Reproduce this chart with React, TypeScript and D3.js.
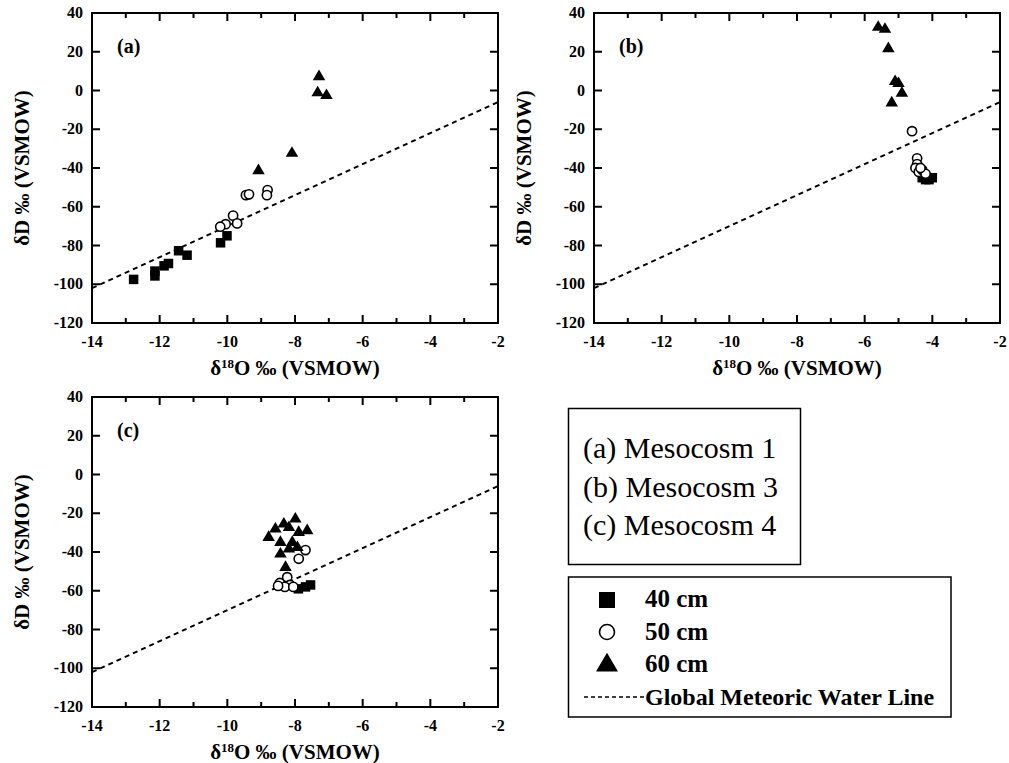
import React from "react";
import * as d3 from "d3";

type Pt = [number, number];

// Panel (a) Mesocosm 1
const a40: Pt[] = [[-10.01,-75],[-10.2,-78.6],[-11.44,-82.7],[-11.19,-85],[-11.74,-89.3],[-11.87,-90.5],[-12.14,-93.2],[-12.14,-95.7],[-12.77,-97.5]];
const a50: Pt[] = [[-9.45,-54],[-9.36,-53.6],[-8.81,-51.4],[-8.83,-54],[-9.83,-64.6],[-9.71,-68.6],[-10.05,-69],[-10.21,-70.3]];
const a60: Pt[] = [[-7.29,7.5],[-7.33,-0.8],[-7.07,-2.2],[-8.09,-32],[-9.08,-41]];
// Panel (b) Mesocosm 3
const b40: Pt[] = [[-4.3,-45],[-4.1,-46],[-4.0,-45],[-4.2,-46]];
const b50: Pt[] = [[-4.6,-21],[-4.45,-35],[-4.45,-38],[-4.5,-40],[-4.4,-42],[-4.3,-41],[-4.2,-43],[-4.35,-40]];
const b60: Pt[] = [[-5.6,33],[-5.4,32],[-5.3,22],[-5.1,5],[-5.0,4],[-4.9,-1],[-5.2,-6]];
// Panel (c) Mesocosm 4
const c40: Pt[] = [[-7.54,-57],[-7.69,-58],[-7.9,-59]];
const c50: Pt[] = [[-7.69,-39],[-7.89,-43.5],[-8.23,-53],[-8.45,-56],[-8.15,-57],[-8.3,-58],[-8.05,-58],[-8.5,-57.5]];
const c60: Pt[] = [[-7.99,-22.6],[-8.33,-25.2],[-8.58,-27.8],[-7.64,-28.6],[-8.18,-27],[-7.89,-29.5],[-8.78,-32.1],[-8.43,-34.7],[-8.08,-34.7],[-7.93,-37.3],[-8.18,-38.1],[-8.43,-40.7],[-8.28,-47.6]];

const xTicks = [-14, -12, -10, -8, -6, -4, -2];
const xMinor = d3.range(-14, -1, 1);
const yTicks = [40, 20, 0, -20, -40, -60, -80, -100, -120];
const gmwlX = [-14, -2];
const gmwl = (x: number) => 8 * x + 10;

const legendPanels = ["(a) Mesocosm 1", "(b) Mesocosm 3", "(c) Mesocosm 4"];
const legendSeries = ["40 cm", "50 cm", "60 cm"];

const panels = [
  { label: "(a)", left: 92, top: 13, s40: a40, s50: a50, s60: a60 },
  { label: "(b)", left: 594, top: 13, s40: b40, s50: b50, s60: b60 },
  { label: "(c)", left: 92, top: 397, s40: c40, s50: c50, s60: c60 },
];

const W = 406;
const H = 310;
const FONT = "Liberation Serif, Tinos, Times New Roman, DejaVu Serif, serif";
const fs = (size: number, bold = true): React.CSSProperties => ({
  fontFamily: FONT,
  fontSize: size,
  fontWeight: bold ? 700 : 400,
});

function Square({ x, y, s }: { x: number; y: number; s: number }) {
  return <rect x={x - s / 2} y={y - s / 2} width={s} height={s} fill="#000" />;
}
function Circle({ x, y, r }: { x: number; y: number; r: number }) {
  return <circle cx={x} cy={y} r={r} fill="#fff" stroke="#000" strokeWidth={1.6} />;
}
function Tri({ x, y, w }: { x: number; y: number; w: number }) {
  const h = w * 0.85;
  return <path d={`M${x},${y - h * 0.6}L${x + w / 2},${y + h * 0.4}L${x - w / 2},${y + h * 0.4}Z`} fill="#000" />;
}

function Panel({ p }: { p: (typeof panels)[number] }) {
  const x = d3.scaleLinear().domain([-14, -2]).range([p.left, p.left + W]);
  const y = d3.scaleLinear().domain([-120, 40]).range([p.top + H, p.top]);
  const line = d3.line<number>().x((v) => x(v)).y((v) => y(gmwl(v)));
  const bottom = p.top + H;
  const right = p.left + W;
  return (
    <g>
      <path d={line(gmwlX) || ""} fill="none" stroke="#000" strokeWidth={2} strokeDasharray="5,4" />
      {p.s40.map((d, i) => <Square key={"s" + i} x={x(d[0])} y={y(d[1])} s={9.5} />)}
      {p.s50.map((d, i) => <Circle key={"c" + i} x={x(d[0])} y={y(d[1])} r={4.6} />)}
      {p.s60.map((d, i) => <Tri key={"t" + i} x={x(d[0])} y={y(d[1])} w={12.5} />)}
      <rect x={p.left} y={p.top} width={W} height={H} fill="none" stroke="#000" strokeWidth={2} />
      {xMinor.map((v) => {
        const major = v % 2 === 0;
        const len = major ? 8 : 5;
        return (
          <g key={"xt" + v}>
            <line x1={x(v)} x2={x(v)} y1={bottom} y2={bottom - len} stroke="#000" strokeWidth={2} />
            <line x1={x(v)} x2={x(v)} y1={p.top} y2={p.top + len} stroke="#000" strokeWidth={2} />
          </g>
        );
      })}
      {yTicks.map((v) => (
        <g key={"yt" + v}>
          <line x1={p.left} x2={p.left + 8} y1={y(v)} y2={y(v)} stroke="#000" strokeWidth={2} />
          <line x1={right} x2={right - 8} y1={y(v)} y2={y(v)} stroke="#000" strokeWidth={2} />
          <text x={p.left - 9} y={y(v) + 5} textAnchor="end" style={fs(16)}>
            {v}
          </text>
        </g>
      ))}
      {xTicks.map((v) => (
        <text key={"xl" + v} x={x(v)} y={bottom + 24} textAnchor="middle" style={fs(16)}>
          {v}
        </text>
      ))}
      <text x={p.left + 25} y={p.top + 40} style={fs(20)}>
        {p.label}
      </text>
      <text x={(p.left + right) / 2} y={bottom + 52} textAnchor="middle" style={fs(21)}>
        δ<tspan dy={-7} style={fs(13)}>18</tspan>
        <tspan dy={7}>O ‰ (VSMOW)</tspan>
      </text>
      <text
        transform={`translate(${p.left - 63},${(p.top + bottom) / 2}) rotate(-90)`}
        textAnchor="middle"
        style={fs(21)}
      >
        δD ‰ (VSMOW)
      </text>
    </g>
  );
}

export default function App() {
  return (
    <svg width={1009} height={763} style={{ position: "absolute", left: 0, top: 0, background: "#fff" }}>
      <rect x={0} y={0} width={1009} height={763} fill="#fff" />
      {panels.map((p) => <Panel key={p.label} p={p} />)}
      <rect x={568.5} y={408.5} width={232} height={156} fill="none" stroke="#000" strokeWidth={1.5} />
      {legendPanels.map((t, i) => (
        <text key={t} x={583} y={458 + i * 38.5} style={fs(30, false)}>
          {t}
        </text>
      ))}
      <rect x={568.5} y={577} width={382.5} height={140} fill="none" stroke="#000" strokeWidth={1.5} />
      <Square x={607} y={600} s={16} />
      <Circle x={607} y={632} r={7.5} />
      <Tri x={607} y={664} w={22} />
      <line x1={584} x2={646} y1={697} y2={697} stroke="#000" strokeWidth={1.5} strokeDasharray="4,3" />
      {legendSeries.map((t, i) => (
        <text key={t} x={645} y={607 + i * 32.5} style={fs(25)}>
          {t}
        </text>
      ))}
      <text x={645} y={705} style={fs(24)}>
        Global Meteoric Water Line
      </text>
    </svg>
  );
}
